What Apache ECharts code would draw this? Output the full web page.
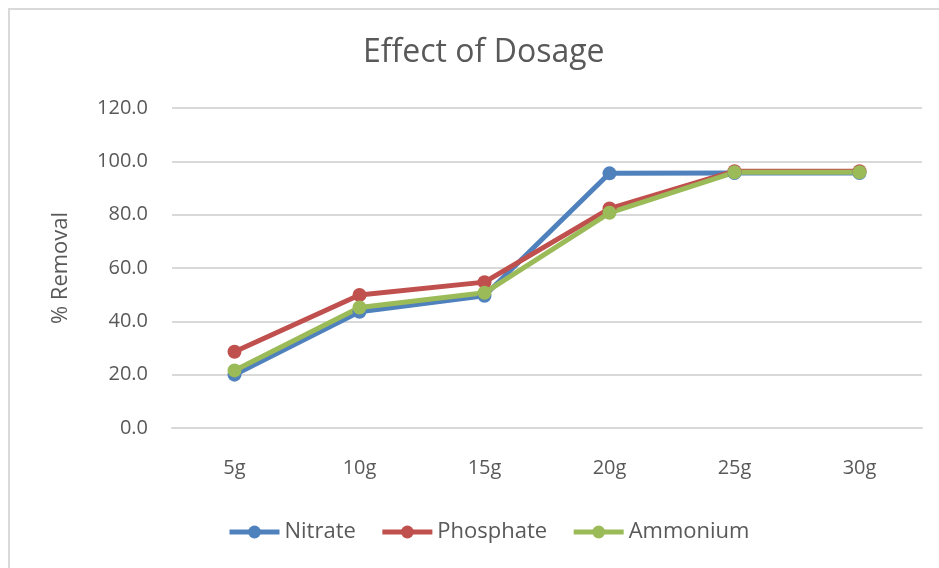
<!DOCTYPE html>
<html>
<head>
<meta charset="utf-8">
<script src="https://cdn.jsdelivr.net/npm/echarts@6/dist/echarts.min.js"></script>
<style>
  html, body { margin: 0; padding: 0; background: #fff; }
  #chart { width: 939px; height: 568px; }
</style>
</head>
<body>
<div id="chart"></div>
<script>
// data
const dosages = ['5g', '10g', '15g', '20g', '25g', '30g'];
const nitrate = [20.0, 43.6, 49.6, 95.5, 95.6, 95.6];
const phosphate = [28.6, 49.9, 54.7, 82.3, 96.3, 96.3];
const ammonium = [21.6, 45.2, 50.7, 80.7, 95.9, 95.9];
const yTicks = { min: 0, max: 120, step: 20 };

const textColor = '#595959';
const font = 'Open Sans';

function lineSeries(name, data, color) {
  return {
    name: name,
    type: 'line',
    data: data,
    symbol: 'circle',
    symbolSize: 14,
    lineStyle: { width: 5, color: color },
    itemStyle: { color: color },
    emphasis: { disabled: true }
  };
}

const chart = echarts.init(document.getElementById('chart'));
chart.setOption({
  animation: false,
  color: ['#4f81bd', '#c0504d', '#9bbb59'],
  title: {
    text: 'Effect of Dosage',
    left: 358,
    top: 32,
    textStyle: { fontFamily: font, fontSize: 32, fontWeight: 'normal', color: textColor }
  },
  graphic: [{
    type: 'rect',
    shape: { x: 9, y: 9, width: 1000, height: 1000 },
    style: { fill: 'none', stroke: '#d9d9d9', lineWidth: 2 },
    silent: true
  }],
  grid: { left: 172, right: 17, top: 108, bottom: 140 },
  legend: {
    bottom: 20,
    left: 222,
    itemWidth: 50,
    itemHeight: 16,
    itemGap: 24,
    lineStyle: { width: 5 },
    textStyle: { fontFamily: font, fontSize: 22, color: textColor },
    data: ['Nitrate', 'Phosphate', 'Ammonium']
  },
  xAxis: {
    type: 'category',
    data: dosages,
    axisLine: { lineStyle: { color: '#d9d9d9', width: 2 } },
    axisTick: { show: false },
    axisLabel: { fontFamily: font, fontSize: 20, color: textColor, margin: 30 }
  },
  yAxis: {
    type: 'value',
    min: yTicks.min,
    max: yTicks.max,
    interval: yTicks.step,
    name: '% Removal',
    nameLocation: 'middle',
    nameGap: 100,
    nameRotate: 90,
    nameTextStyle: { fontFamily: font, fontSize: 22, color: textColor },
    axisLine: { show: false },
    axisTick: { show: false },
    splitLine: { lineStyle: { color: '#d9d9d9', width: 2 } },
    axisLabel: {
      fontFamily: font, fontSize: 20, color: textColor, margin: 24,
      formatter: v => v.toFixed(1)
    }
  },
  series: [
    lineSeries('Nitrate', nitrate, '#4f81bd'),
    lineSeries('Phosphate', phosphate, '#c0504d'),
    lineSeries('Ammonium', ammonium, '#9bbb59')
  ]
});
</script>
</body>
</html>
